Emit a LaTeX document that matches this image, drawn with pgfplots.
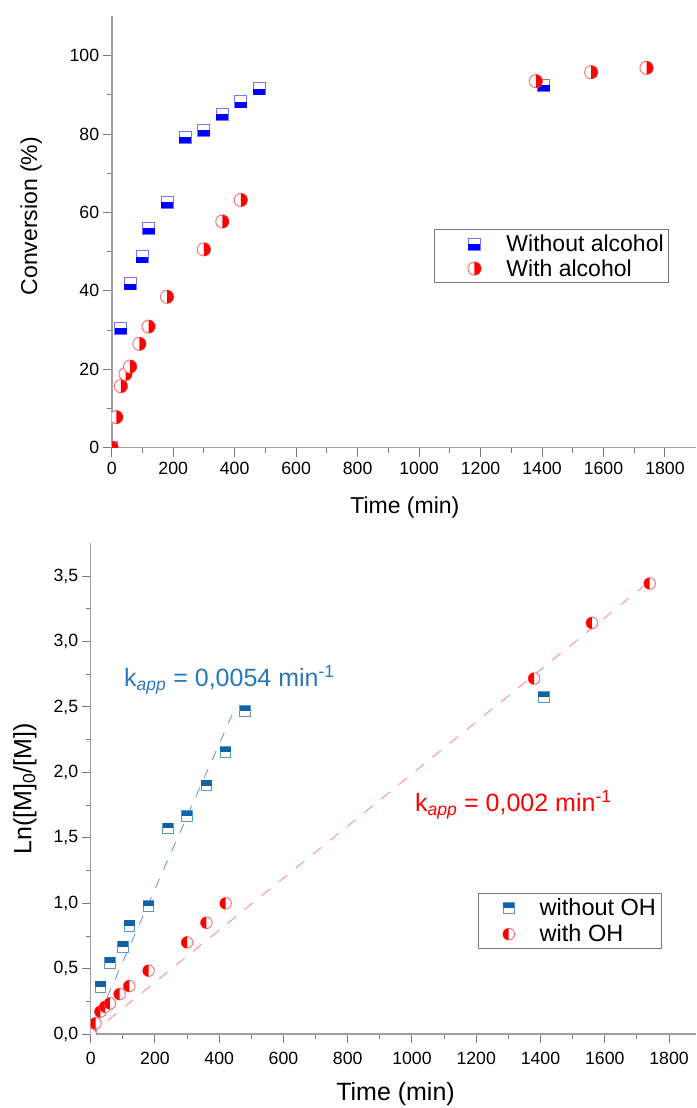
\documentclass[border=0pt]{standalone}
\usepackage{fontspec}
\setmainfont{Liberation Sans}
\usepackage{pgfplots}
\pgfplotsset{compat=1.18}

\definecolor{tbF}{HTML}{0000FF}
\definecolor{tbO}{HTML}{7373FF}
\definecolor{rdF}{HTML}{FF0000}
\definecolor{rdO}{HTML}{FF6A6A}
\definecolor{bbF}{HTML}{1262A6}
\definecolor{bbO}{HTML}{5A9AD2}
\definecolor{bluetxt}{HTML}{2878BD}
\definecolor{bluedash}{HTML}{6E9FD2}
\definecolor{reddash}{HTML}{FF8C8C}
\definecolor{axgray}{HTML}{A0A0A0}
\definecolor{tkgray}{HTML}{7A7A7A}

% square, top half white, bottom half filled
\pgfdeclareplotmark{sqlow}{%
  \pgfpathrectangle{\pgfqpoint{-\pgfplotmarksize}{-\pgfplotmarksize}}{\pgfqpoint{2\pgfplotmarksize}{2\pgfplotmarksize}}%
  \pgfsetfillcolor{white}\pgfsetstrokecolor{tbO}\pgfusepath{fill,stroke}%
  \pgfpathrectangle{\pgfqpoint{-\pgfplotmarksize}{-\pgfplotmarksize}}{\pgfqpoint{2\pgfplotmarksize}{\pgfplotmarksize}}%
  \pgfsetfillcolor{tbF}\pgfusepath{fill}}
% square, top half filled, bottom half white
\pgfdeclareplotmark{squp}{%
  \pgfpathrectangle{\pgfqpoint{-\pgfplotmarksize}{-\pgfplotmarksize}}{\pgfqpoint{2\pgfplotmarksize}{2\pgfplotmarksize}}%
  \pgfsetfillcolor{white}\pgfsetstrokecolor{bbO}\pgfusepath{fill,stroke}%
  \pgfpathrectangle{\pgfqpoint{-\pgfplotmarksize}{0pt}}{\pgfqpoint{2\pgfplotmarksize}{\pgfplotmarksize}}%
  \pgfsetfillcolor{bbF}\pgfusepath{fill}}
% circle, right half filled
\pgfdeclareplotmark{ciright}{%
  \pgfpathcircle{\pgfpointorigin}{\pgfplotmarksize}%
  \pgfsetfillcolor{white}\pgfsetstrokecolor{rdO}\pgfusepath{fill,stroke}%
  \pgfpathmoveto{\pgfqpoint{0pt}{\pgfplotmarksize}}%
  \pgfpatharc{90}{-90}{\pgfplotmarksize}\pgfpathclose
  \pgfsetfillcolor{rdF}\pgfusepath{fill}}
% circle, left half filled
\pgfdeclareplotmark{cileft}{%
  \pgfpathcircle{\pgfpointorigin}{\pgfplotmarksize}%
  \pgfsetfillcolor{white}\pgfsetstrokecolor{rdO}\pgfusepath{fill,stroke}%
  \pgfpathmoveto{\pgfqpoint{0pt}{\pgfplotmarksize}}%
  \pgfpatharc{90}{270}{\pgfplotmarksize}\pgfpathclose
  \pgfsetfillcolor{rdF}\pgfusepath{fill}}

\pgfplotsset{
  kinetic/.style={
    scale only axis,
    axis lines=left,
    axis line style={-, draw=axgray, line width=1.6pt},
    tick align=outside,
    major tick length=9pt,
    minor tick length=5pt,
    tick style={draw=tkgray, line width=1pt},
    xtick pos=left, ytick pos=left,
    minor x tick num=1, minor y tick num=1,
    xmin=0, xtick={0,200,...,1800},
    clip marker paths=true,
    tick label style={font=\fontsize{17.7}{20}\selectfont},
    /pgf/number format/assume math mode=true,
    /pgf/number format/1000 sep={},
    legend cell align=left,
  },
  % legend image: invisible path for the width, one mark (mark, size, pos, width)
  legmark/.style n args={4}{legend image code/.code={%
    \path[draw=none] (0pt,0pt) -- (#4,0pt);
    \pgfsetplotmarksize{#2}\pgfsetlinewidth{0.9pt}%
    \pgftransformshift{\pgfqpoint{#3}{0pt}}\pgfuseplotmark{#1}}},
}

\begin{document}
\begin{tikzpicture}
\useasboundingbox (0,0) rectangle (696pt,1108pt);

% ---------- top: conversion vs time ----------
\begin{axis}[kinetic,
  at={(111.7pt,660.3pt)}, anchor=south west,
  width=584pt, height=431.2pt,
  xmax=1900, ymin=0, ymax=110,
  ytick={0,20,...,100},
  xticklabel style={yshift=-2pt},
  xlabel={Time (min)},
  ylabel={Conversion (\%)},
  label style={font=\fontsize{23}{26}\selectfont},
  xlabel style={at={(axis description cs:0.502,-0.1519)}, anchor=base},
  ylabel style={at={(axis description cs:-0.138,0.537)}, anchor=center},
  legend style={at={(axis description cs:0.552,0.5065)}, anchor=north west,
    draw=tkgray, line width=0.8pt, font=\fontsize{23}{26}\selectfont,
    inner xsep=3pt, inner ysep=3.2pt, row sep=2.4pt},
]
\addplot[only marks, mark=sqlow, mark size=6pt, line width=0.9pt,
  legmark={sqlow}{6pt}{37pt}{67pt}] coordinates {
  (0,0) (30,30.5) (60,41.8) (100,48.7) (120,56.0) (180,62.6) (240,79.2)
  (300,81.0) (360,85.0) (420,88.3) (480,91.6) (1405,92.4)
};
\addplot[only marks, mark=ciright, mark size=6.6pt, line width=0.9pt,
  legmark={ciright}{6.6pt}{37pt}{67pt}] coordinates {
  (0,0) (15,7.8) (30,15.7) (45,18.8) (60,20.7) (90,26.5) (120,30.9) (180,38.5)
  (300,50.6) (360,57.7) (420,63.2) (1380,93.5) (1560,95.8) (1740,96.9)
};
\legend{Without alcohol, With alcohol}
\end{axis}

% ---------- bottom: first-order plot ----------
\begin{axis}[kinetic,
  at={(90.7pt,73.7pt)}, anchor=south west,
  width=605.3pt, height=491pt,
  xmax=1884, ymin=0, ymax=3.75,
  ytick={0,0.5,...,3.5},
  yticklabel style={/pgf/number format/.cd, fixed, fixed zerofill, precision=1, use comma, 1000 sep={}},
  xticklabel style={yshift=-5pt},
  xlabel={Time (min)},
  ylabel={Ln([M]\textsubscript{0}/[M])},
  label style={font=\fontsize{25}{28}\selectfont},
  xlabel style={at={(axis description cs:0.5036,-0.1358)}, anchor=base},
  ylabel style={at={(axis description cs:-0.1085,0.5)}, anchor=center},
  legend style={at={(axis description cs:0.6404,0.2872)}, anchor=north west,
    draw=tkgray, line width=0.8pt, font=\fontsize{23.5}{26}\selectfont,
    inner xsep=3pt, inner ysep=3.2pt, row sep=3.5pt},
]
\addplot[bluedash, line width=0.9pt, dash pattern=on 10pt off 10pt, forget plot]
  coordinates {(0,0) (440,2.44)};
\addplot[reddash, line width=0.9pt, dash pattern=on 11pt off 11pt, forget plot]
  coordinates {(0,0) (1730,3.44)};
\addplot[only marks, mark=squp, mark size=5.3pt, line width=0.9pt,
  legmark={squp}{5.3pt}{27pt}{56pt}] coordinates {
  (0,0) (30,0.363) (60,0.547) (100,0.669) (120,0.829) (180,0.979) (240,1.572)
  (300,1.666) (360,1.900) (420,2.157) (480,2.470) (1410,2.577)
};
\addplot[only marks, mark=cileft, mark size=5.8pt, line width=0.9pt,
  legmark={cileft}{5.8pt}{27pt}{56pt}] coordinates {
  (0,0) (15,0.084) (30,0.173) (45,0.210) (60,0.236) (90,0.307) (120,0.368)
  (180,0.486) (300,0.702) (360,0.852) (420,1.000) (1380,2.717) (1560,3.142)
  (1740,3.443)
};
\legend{without OH, with OH}
\node[anchor=base west, text=bluetxt, inner sep=0pt, font=\fontsize{25}{28}\selectfont]
  at (axis cs:103.6,2.655) {k\textsubscript{\itshape app} = 0,0054 min\textsuperscript{-1}};
\node[anchor=base west, text=rdF, inner sep=0pt, font=\fontsize{25}{28}\selectfont]
  at (axis cs:1009,1.70) {k\textsubscript{\itshape app} = 0,002 min\textsuperscript{-1}};
\end{axis}
\end{tikzpicture}
\end{document}
